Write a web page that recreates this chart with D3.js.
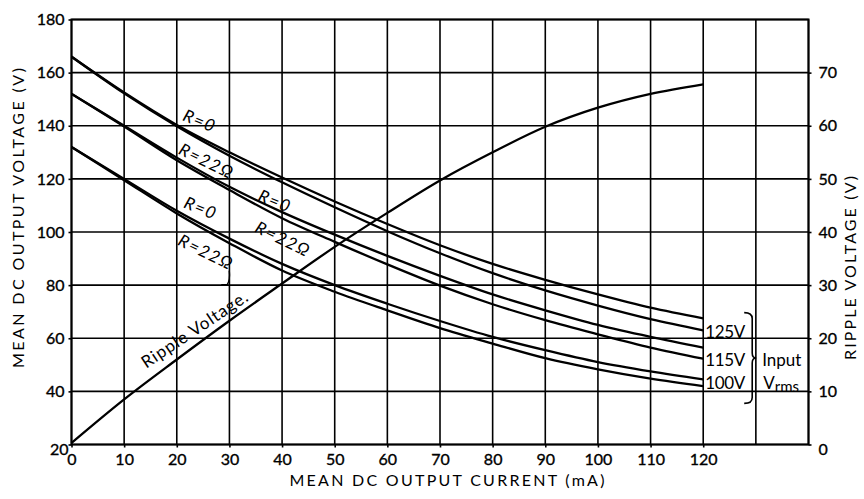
<!DOCTYPE html>
<html>
<head>
<meta charset="utf-8">
<script src="https://cdn.jsdelivr.net/npm/d3@7"></script>
<style>
  html, body { margin: 0; padding: 0; background: #fff; }
  svg text { font-family: Lato, "Open Sans", sans-serif; fill: #000; }
</style>
</head>
<body>
<svg id="chart" width="864" height="499"></svg>
<script>
// ---------- data ----------
const current = [0, 10, 20, 30, 40, 50, 60, 70, 80, 90, 100, 110, 120];
const v125R0  = [166, 152.5, 140.3, 130, 120.5, 111.5, 103, 95, 88, 82, 76.5, 71.5, 67.5];
const v125R22 = [166, 152.2, 139.8, 128.7, 118.7, 109.3, 100.3, 92, 84.5, 78, 72.3, 67.2, 63];
const v115R0  = [152, 140, 128, 117, 107.5, 99, 91, 83.5, 76.5, 70.5, 65, 60.5, 56.5];
const v115R22 = [152, 139.7, 127, 115.8, 105.2, 96.3, 87.8, 79.8, 72.8, 66.8, 61.5, 56.5, 52.3];
const v100R0  = [132, 120, 108, 97.5, 88, 80, 73, 66.5, 60.5, 55.5, 51, 47.5, 44.5];
const v100R22 = [132, 119.5, 107, 95.8, 85.5, 77.5, 70.5, 63.8, 58, 52.5, 48.3, 44.8, 42];
const ripple  = [0.3, 8.5, 16, 23.3, 30.3, 37.2, 43.6, 49.7, 55, 59.8, 63.4, 66, 67.8];

const xTicks = [0, 10, 20, 30, 40, 50, 60, 70, 80, 90, 100, 110, 120];
const yTicks = [20, 40, 60, 80, 100, 120, 140, 160, 180];
const rTicks = [0, 10, 20, 30, 40, 50, 60, 70];

// curve labels: [text, current, voltage]
const curveLabels = [
  ["R=0", 24.4, 142.0],
  ["R=22\u03A9", 25.7, 126.9],
  ["R=0", 38.7, 111.8],
  ["R=22\u03A9", 40.2, 97.5],
  ["R=0", 24.6, 109.2],
  ["R=22\u03A9", 25.6, 92.6]
];
const inputLabels = ["125V", "115V", "100V"];
const inputLabelV = [62.5, 52, 43];

// ---------- layout ----------
const svg = d3.select("#chart");
const x = d3.scaleLinear().domain([0, 140]).range([71.5, 808.5]);
const y = d3.scaleLinear().domain([20, 180]).range([444.5, 19.5]);
const yR = d3.scaleLinear().domain([0, 80]).range([444.5, 19.5]);

// grid
const grid = svg.append("g").attr("stroke", "#000").attr("stroke-width", 1.6);
grid.selectAll("line.v").data(d3.range(0, 150, 10)).join("line")
  .attr("x1", d => x(d)).attr("x2", d => x(d))
  .attr("y1", y(180)).attr("y2", y(20));
grid.selectAll("line.h").data(yTicks).join("line")
  .attr("x1", x(0)).attr("x2", x(140))
  .attr("y1", d => y(d)).attr("y2", d => y(d));
svg.append("rect").attr("x", x(0)).attr("y", y(180))
  .attr("width", x(140) - x(0)).attr("height", y(20) - y(180))
  .attr("fill", "none").attr("stroke", "#000").attr("stroke-width", 2);

// axes
const fs = 16;
const axL = svg.append("g").attr("transform", `translate(${x(0)},0)`)
  .call(d3.axisLeft(y).tickValues(yTicks).tickSize(3).tickPadding(4));
const axB = svg.append("g").attr("transform", `translate(0,${y(20)})`)
  .call(d3.axisBottom(x).tickValues(xTicks).tickSize(3).tickPadding(6));
const axR = svg.append("g").attr("transform", `translate(${x(140)},0)`)
  .call(d3.axisRight(yR).tickValues(rTicks).tickSize(3).tickPadding(7));
[axL, axB, axR].forEach(a => {
  a.select(".domain").remove();
  a.selectAll("line").attr("stroke", "#000").attr("stroke-width", 1.6);
  a.selectAll("text").attr("font-size", fs).attr("font-family", "Lato, sans-serif")
    .attr("stroke", "#000").attr("stroke-width", 0.35);
});
axL.selectAll(".tick").filter(d => d === 20).select("text").attr("dy", "0.6em").attr("x", -3);
axR.selectAll(".tick").filter(d => d === 0).select("text").attr("dy", "0.6em");

// axis titles
svg.append("text").attr("x", 447).attr("y", 486).attr("text-anchor", "middle")
  .attr("font-size", 16).attr("textLength", 315).attr("lengthAdjust", "spacing")
  .text("MEAN DC OUTPUT CURRENT (mA)");
svg.append("text").attr("transform", "translate(24,218) rotate(-90)").attr("text-anchor", "middle")
  .attr("font-size", 16).attr("textLength", 300).attr("lengthAdjust", "spacing")
  .text("MEAN DC OUTPUT VOLTAGE (V)");
svg.append("text").attr("transform", "translate(856,268) rotate(-90)").attr("text-anchor", "middle")
  .attr("font-size", 16).attr("textLength", 184).attr("lengthAdjust", "spacing")
  .text("RIPPLE VOLTAGE (V)");

// curves
const line = d3.line().x(d => x(d[0])).y(d => y(d[1])).curve(d3.curveMonotoneX);
const series = [v125R0, v125R22, v115R0, v115R22, v100R0, v100R22];
svg.append("g").selectAll("path").data(series).join("path")
  .attr("d", s => line(current.map((c, i) => [c, s[i]])))
  .attr("fill", "none").attr("stroke", "#000").attr("stroke-width", 2.3);

const rline = d3.line().x(d => x(d[0])).y(d => yR(d[1])).curve(d3.curveMonotoneX);
svg.append("path").attr("d", rline(current.map((c, i) => [c, ripple[i]])))
  .attr("fill", "none").attr("stroke", "#000").attr("stroke-width", 2.3);

// curve labels
svg.append("g").selectAll("text").data(curveLabels).join("text")
  .attr("transform", d => `translate(${x(d[1])},${y(d[2])}) rotate(${d[0] === "R=0" ? 22 : 26})`)
  .attr("text-anchor", "middle").attr("dominant-baseline", "central")
  .attr("font-size", 17).attr("font-style", "italic").attr("letter-spacing", 1.5)
  .text(d => d[0]);

// leader tick under last R=22 label
const lx = x(curveLabels[5][1]), ly = y(curveLabels[5][2]);
svg.append("path")
  .attr("d", `M${lx + 23},${ly + 19} Q${lx + 24},${ly + 28} ${lx + 21},${ly + 33} L${lx + 15},${ly + 33}`)
  .attr("fill", "none").attr("stroke", "#000").attr("stroke-width", 1.4);

// ripple label
svg.append("text")
  .attr("transform", `translate(${x(14.2)},${y(48.5)}) rotate(-33.7)`)
  .attr("font-size", 17).attr("textLength", 124).attr("lengthAdjust", "spacing")
  .text("Ripple Voltage.");

// input voltage labels
svg.append("g").selectAll("text").data(inputLabels).join("text")
  .attr("x", x(120) + 2).attr("y", (d, i) => y(inputLabelV[i]) + 6)
  .attr("font-size", 17).attr("textLength", 40).attr("lengthAdjust", "spacing").text(d => d);

// bracket
const bx = x(120) + 49, by0 = y(inputLabelV[0]) - 19, by1 = y(inputLabelV[2]) + 20, bm = (by0 + by1) / 2;
svg.append("path")
  .attr("d", `M${bx - 8},${by0} Q${bx},${by0} ${bx},${by0 + 6} L${bx},${bm - 5} Q${bx},${bm} ${bx + 4},${bm} Q${bx},${bm} ${bx},${bm + 5} L${bx},${by1 - 6} Q${bx},${by1} ${bx - 8},${by1}`)
  .attr("fill", "none").attr("stroke", "#000").attr("stroke-width", 1.6);

svg.append("text").attr("x", bx + 10).attr("y", y(inputLabelV[1]) + 6).attr("font-size", 17).text("Input");
const vr = svg.append("text").attr("x", bx + 11).attr("y", y(inputLabelV[2]) + 6).attr("font-size", 17);
vr.append("tspan").text("V");
vr.append("tspan").attr("font-size", 15).attr("dy", 3).text("rms");
</script>
</body>
</html>
